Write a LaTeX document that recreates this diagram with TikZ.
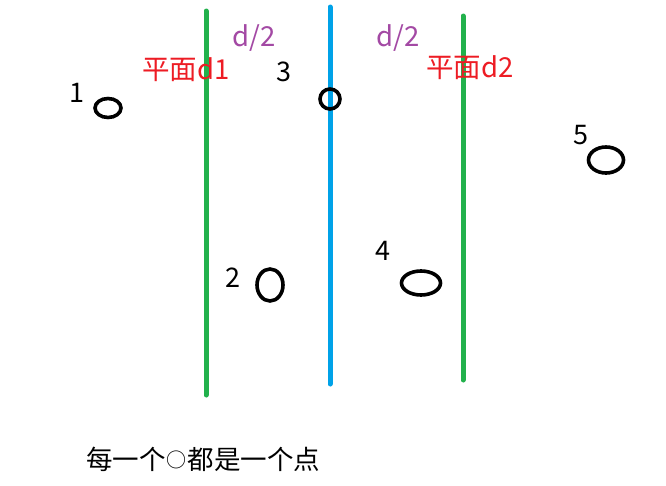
\documentclass[tikz,border=0pt]{standalone}
\usepackage{fontspec}
\setmainfont{Noto Sans CJK SC}
\definecolor{planegreen}{RGB}{34,177,76}
\definecolor{midblue}{RGB}{0,162,232}
\definecolor{halfpurple}{RGB}{163,73,164}
\definecolor{planered}{RGB}{237,28,36}
\tikzset{
  plane/.style={line width=5pt, line cap=round, planegreen},
  midplane/.style={line width=5pt, line cap=round, midblue},
  pt/.style={draw=black, line width=3.6pt, ellipse, inner sep=0pt},
  num/.style={font=\fontsize{27}{30}\selectfont, text=black, inner sep=0pt},
  half/.style={font=\fontsize{27.5}{30}\selectfont, text=halfpurple, inner sep=0pt},
  pname/.style={font=\fontsize{27.5}{30}\selectfont, text=planered, inner sep=0pt},
  note/.style={font=\fontsize{26.5}{30}\selectfont, text=black, inner sep=0pt}
}
\usetikzlibrary{shapes.geometric}
\begin{document}
\begin{tikzpicture}[x=1pt,y=-1pt]
\useasboundingbox (0,0) rectangle (666,485);
% planes
\coordinate (g1t) at (206,11);
\coordinate (g1b) at (206,395);
\coordinate (bt) at (330,7);
\coordinate (bb) at (330,384);
\coordinate (g2t) at (463,16);
\coordinate (g2b) at (463,380);
\draw[plane] (g1t) -- (g1b);
\draw[midplane] (bt) -- (bb);
\draw[plane] (g2t) -- (g2b);
% points
\node[pt, minimum width=26pt, minimum height=19pt] (p1) at (108,108) {};
\node[pt, minimum width=20pt, minimum height=20pt] (p3) at (330,99) {};
\node[pt, minimum width=35pt, minimum height=26pt] (p5) at (606,160) {};
\node[pt, minimum width=26pt, minimum height=32pt] (p2) at (270,285) {};
\node[pt, minimum width=39pt, minimum height=24pt] (p4) at (421,283) {};
% numbers
\node[num] (n1) at (77,93) {1};
\node[num] (n3) at (284,72) {3};
\node[num] (n5) at (581,135) {5};
\node[num] (n2) at (233,278) {2};
\node[num] (n4) at (383,251) {4};
% labels
\node[half] (h1) at (254,38) {d/2};
\node[half] (h2) at (398,38) {d/2};
\node[pname] (l1) at (186,70) {平面d1};
\node[pname] (l2) at (470,68) {平面d2};
\node[note] (nt) at (203,459) {每一个\kern1pt\raisebox{2pt}{\fontsize{20}{22}\selectfont ○}\kern1pt 都是一个点};
\end{tikzpicture}
\end{document}
